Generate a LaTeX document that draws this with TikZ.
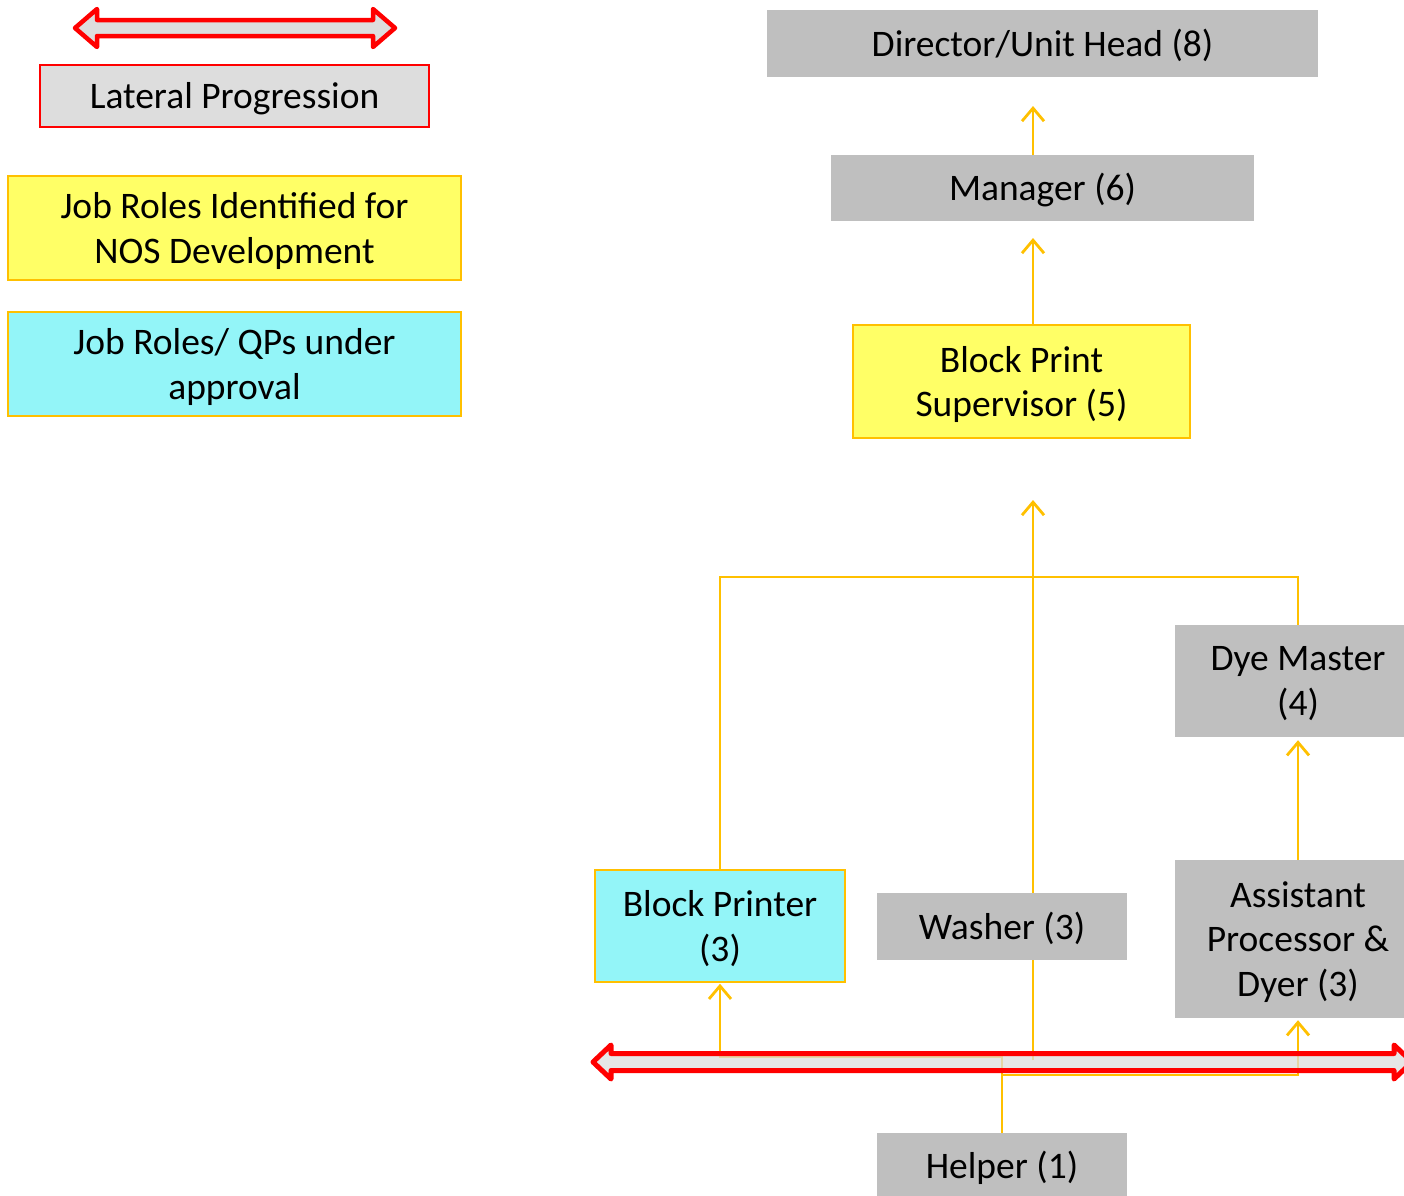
\documentclass[tikz,border=0pt]{standalone}
\usepackage{fontspec}
\setmainfont{Carlito}
\usetikzlibrary{arrows.meta}
\definecolor{boxgray}{HTML}{BFBFBF}
\definecolor{legendgray}{HTML}{DDDDDD}
\definecolor{nosyellow}{HTML}{FFFF66}
\definecolor{qpcyan}{HTML}{93F5F8}
\definecolor{linkorange}{HTML}{FFC000}
\definecolor{latred}{HTML}{FF0000}
\newcommand{\latarrow}[7]{% x1 x2 c hs hh hl style
  \path[#7] (#1,#3) -- (#1+#6,#3-#5) -- (#1+#6,#3-#4) -- (#2-#6,#3-#4) -- (#2-#6,#3-#5) -- (#2,#3)
   -- (#2-#6,#3+#5) -- (#2-#6,#3+#4) -- (#1+#6,#3+#4) -- (#1+#6,#3+#5) -- cycle;}
\begin{document}
\begin{tikzpicture}[x=1pt,y=-1pt,
  every node/.style={inner sep=0pt, align=center, font=\fontsize{37.5}{44.5}\selectfont, text=black,
    execute at begin node={\rule{0pt}{34pt}}, execute at end node={\rule[-9pt]{0pt}{0pt}}},
  multi/.style={execute at begin node={}, execute at end node={}, text depth=0pt},
  graybox/.style={fill=boxgray},
  yellowbox/.style={fill=nosyellow, draw=linkorange, line width=1.5pt},
  cyanbox/.style={fill=qpcyan, draw=linkorange, line width=1.5pt},
  legendbox/.style={fill=legendgray, draw=latred, line width=1.5pt},
  link/.style={draw=linkorange, line width=2.8pt},
  uparrow/.style={link, -{Straight Barb[length=13pt,width=22pt,line width=2.8pt]}},
]
\useasboundingbox (0,0) rectangle (1404,1195);
\clip (0,0) rectangle (1404,1195);

% legend
\latarrow{75}{395}{28}{8}{19}{22}{draw=latred, fill=legendgray, line width=4.5pt, line join=round}
\node[legendbox, minimum width=389pt, minimum height=62pt] (lat) at (234.5,96) {Lateral Progression};
\node[yellowbox, multi, minimum width=453pt, minimum height=104pt] (nos) at (234.5,228) {Job Roles Identified for\\NOS Development};
\node[cyanbox, multi, minimum width=453pt, minimum height=104pt] (qp) at (234.5,364) {Job Roles/ QPs under\\approval};

% link end points
\coordinate (dirin) at (1033,106);
\coordinate (mgrin) at (1033,238);
\coordinate (bpsin) at (1033,500);
\coordinate (washbase) at (1033,1060);
\coordinate (hsplit) at (1002,1057);
\coordinate (hsplitb) at (1002,1075);
\coordinate (bpjoin) at (720,577);

\node[graybox, minimum width=551pt, minimum height=67pt] (dir) at (1042.5,43.5) {Director/Unit Head (8)};
\node[graybox, minimum width=423pt, minimum height=66pt] (mgr) at (1042.5,188) {Manager (6)};
\node[yellowbox, multi, minimum width=337pt, minimum height=113pt] (bps) at (1021.5,381.5) {Block Print\\Supervisor (5)};

\draw[uparrow] (bps.north -| dirin) -- (mgrin);
\draw[uparrow] (mgr.north -| dirin) -- (dirin);
\draw[uparrow] (washbase) -- (bpsin);

\node[graybox, multi, minimum width=246pt, minimum height=112pt] (dye) at (1298,681) {Dye Master\\(4)};
\node[graybox, multi, minimum width=246pt, minimum height=158pt] (apd) at (1298,939) {Assistant\\Processor \&\\Dyer (3)};
\node[cyanbox, multi, minimum width=250pt, minimum height=112pt] (bp) at (720,926) {Block Printer\\(3)};
\node[graybox, minimum width=250pt, minimum height=67pt] (wash) at (1002,926.5) {Washer (3)};
\node[graybox, minimum width=250pt, minimum height=66pt] (help) at (1002,1166) {Helper (1)};

\draw[link] (bp.north) |- (bpjoin) -- (bpjoin -| dye.north) -- (dye.north);
\draw[uparrow] (apd.north) -- ([yshift=-3pt]dye.south);
\draw[uparrow] (help.north) -- (hsplit) -- (hsplit -| bp.south) -- ([yshift=-1pt]bp.south);
\draw[uparrow] (hsplitb) -- (hsplitb -| apd.south) -- ([yshift=-2pt]apd.south);

% bottom lateral arrow (semi-transparent fill)
\latarrow{593}{1412}{1062}{8.5}{17}{18}{draw=latred, fill=legendgray, fill opacity=0.75, draw opacity=1, line width=5pt, line join=round}
\end{tikzpicture}
\end{document}
